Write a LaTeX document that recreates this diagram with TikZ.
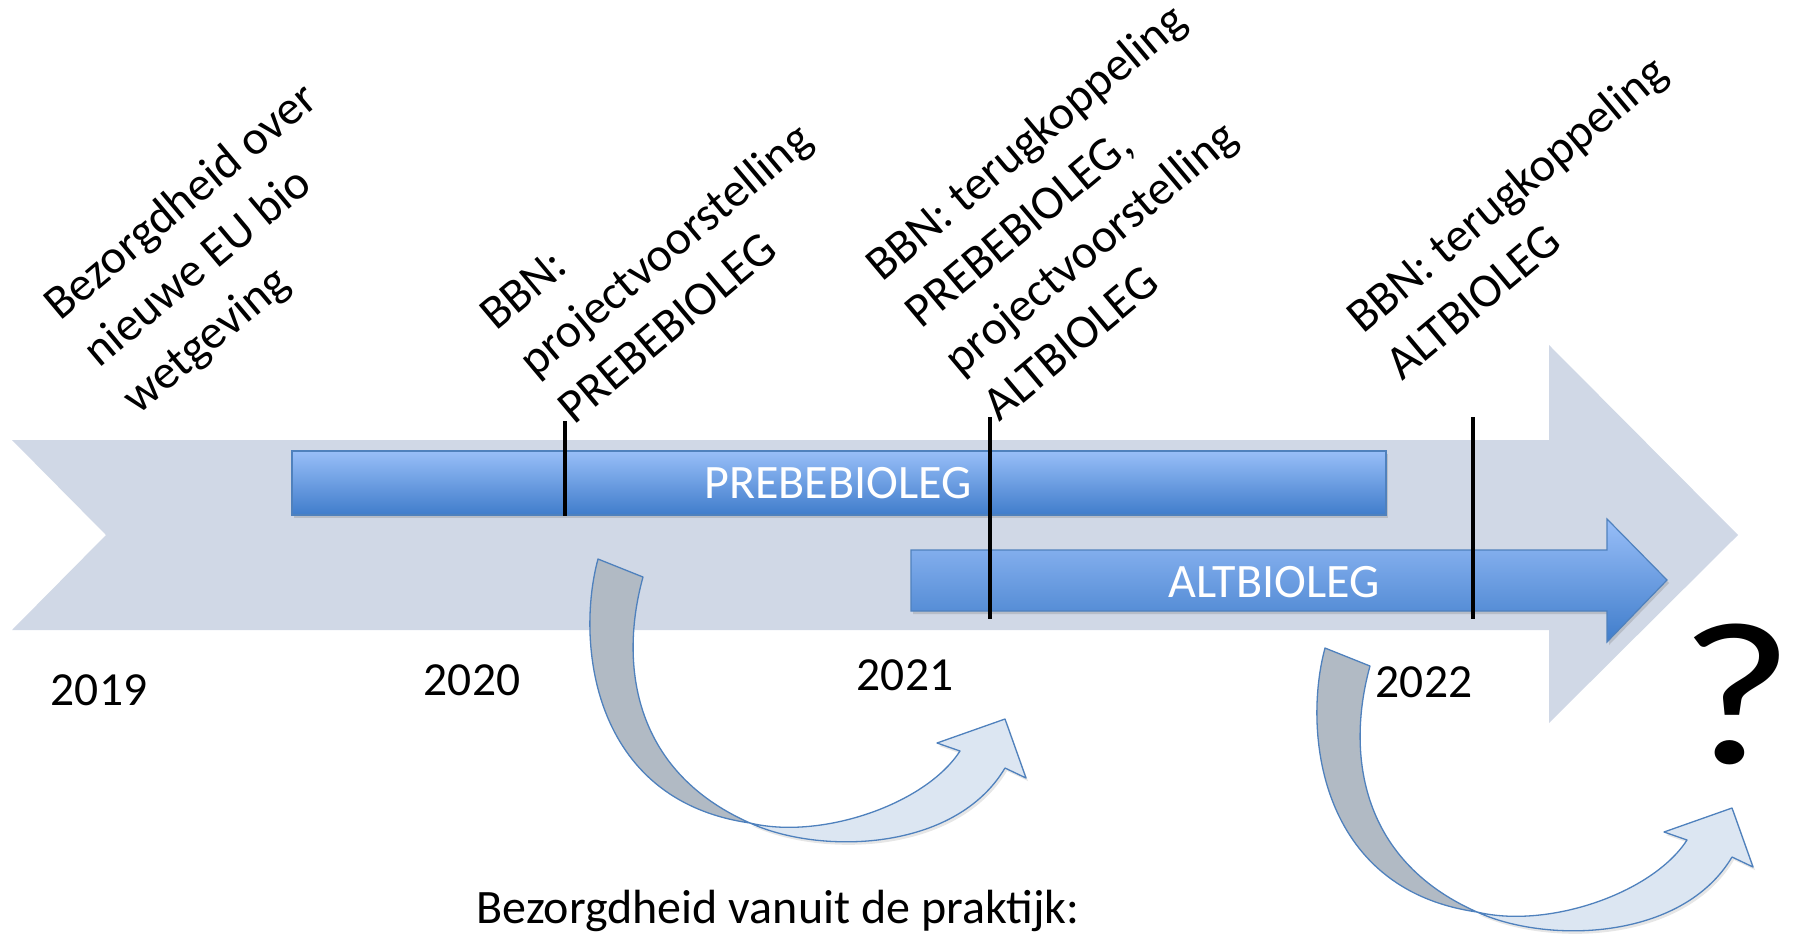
\documentclass[tikz,border=0pt]{standalone}
\usepackage{fontspec}
\setmainfont{Carlito}
\usetikzlibrary{shadows,calc}
\definecolor{bgarrow}{RGB}{208,216,230}
\definecolor{bartop}{RGB}{152,190,248}
\definecolor{barbot}{RGB}{64,125,203}
\definecolor{barline}{RGB}{79,129,189}
\definecolor{backband}{RGB}{177,186,196}
\definecolor{frontband}{RGB}{220,230,242}
\newcommand{\uturnarrow}[2]{%
  \begin{scope}[shift={(#1,#2)}]
    \path[backface] (598,559) .. controls (576,640) and (590,800) .. (750,823)
      .. controls (630,770) and (620,660) .. (643,577) -- cycle;
    \path[frontface] (750,823) .. controls (820,855) and (955,852) .. (1005,768)
      -- (1026,778) -- (1005,719) -- (937,743) -- (960,751)
      .. controls (925,805) and (820,840) .. (750,823) -- cycle;
  \end{scope}}
\begin{document}
\begin{tikzpicture}[x=1pt,y=-1pt,
  txt/.style={inner sep=0pt, font=\fontsize{47.5}{56}\selectfont},
  big/.style={inner sep=0pt, font=\fontsize{48}{56}\selectfont},
  rt/.style={inner sep=0pt, font=\fontsize{48}{56}\selectfont, rotate=40, anchor=base west},
  yr/.style={txt, anchor=base},
  bar/.style={draw=barline, line width=1.2pt, top color=bartop, bottom color=barbot,
    drop shadow={opacity=0.3, shadow xshift=2pt, shadow yshift=-3pt}},
  marker/.style={line width=4.5pt, black},
  backface/.style={fill=backband, draw=barline, line width=1.3pt, line join=round},
  frontface/.style={fill=frontband, draw=barline, line width=1.3pt, line join=round,
    drop shadow={opacity=0.2, shadow xshift=2pt, shadow yshift=-3pt}}]

\useasboundingbox (0,0) rectangle (1793,935);

% big background arrow
\fill[bgarrow] (12,440) -- (1549,440) -- (1549,345) -- (1738,535) -- (1549,723)
  -- (1549,630) -- (12,630) -- (106,535) -- cycle;

% PREBEBIOLEG bar
\path[bar] (292,451) rectangle (1386,515);
\node[big, white] (pre) at (838,483) {PREBEBIOLEG};

% ALTBIOLEG arrow
\path[bar] (911,550) -- (1607,550) -- (1607,519) -- (1667,580) -- (1607,642)
  -- (1607,611) -- (911,611) -- cycle;
\node[big, white] (alt) at (1274,582) {ALTBIOLEG};

% markers
\coordinate (m1t) at (565,421); \coordinate (m1b) at (565,516);
\coordinate (m2t) at (990,417); \coordinate (m2b) at (990,619);
\coordinate (m3t) at (1473,417); \coordinate (m3b) at (1473,619);
\draw[marker] (m1t) -- (m1b);
\draw[marker] (m2t) -- (m2b);
\draw[marker] (m3t) -- (m3b);

% years
\node[yr] (y19) at (99,705) {2019};
\node[yr] (y20) at (472,695) {2020};
\node[yr] (y21) at (905,690) {2021};
\node[yr] (y22) at (1424,697) {2022};

% curved arrows
\uturnarrow{0}{0}
\uturnarrow{727}{89}

% question mark
\node[inner sep=0pt, font=\fontsize{215}{215}\selectfont, anchor=base] (q) at (1737,763) {\scalebox{1.15}[0.95]{?}};

% bottom text
\node[big, anchor=base] (bottom) at (778,923) {Bezorgdheid vanuit de praktijk:};

% rotated labels (line pitch 61 along the normal of a 40 degree baseline)
\node[rt] (a1) at (60,322) {Bezorgdheid over};
\node[rt] (a2) at (99.2,368.7) {nieuwe EU bio};
\node[rt] (a3) at (138.4,415.4) {wetgeving};

\node[rt] (b1) at (496,332) {BBN:};
\node[rt] (b2) at (535.2,378.7) {projectvoorstelling};
\node[rt] (b3) at (574.4,425.4) {PREBEBIOLEG};

\node[rt] (c1) at (882,283) {BBN: terugkoppeling};
\node[rt] (c2) at (921.2,329.7) {PREBEBIOLEG,};
\node[rt] (c3) at (960.4,376.4) {projectvoorstelling};
\node[rt] (c4) at (999.6,423.1) {ALTBIOLEG};

\node[rt] (d1) at (1363,335) {BBN: terugkoppeling};
\node[rt] (d2) at (1402.2,381.7) {ALTBIOLEG};
\end{tikzpicture}
\end{document}
